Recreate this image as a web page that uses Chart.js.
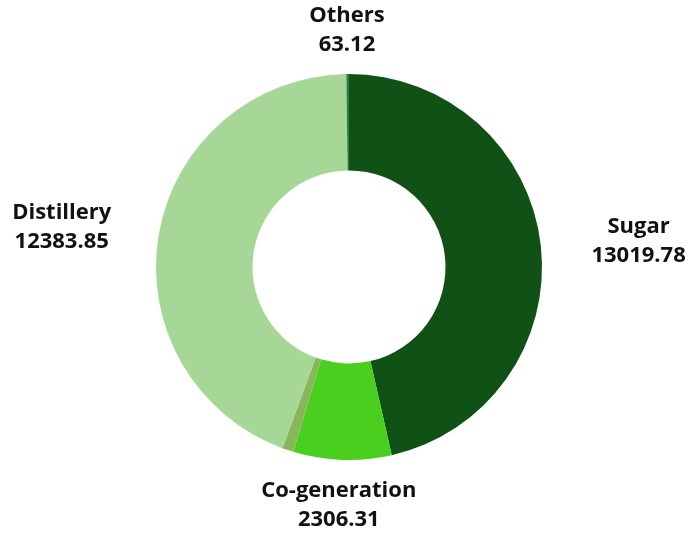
<!DOCTYPE html>
<html>
<head>
<meta charset="utf-8">
<script src="https://cdn.jsdelivr.net/npm/chart.js@4"></script>
<style>
  html, body { margin: 0; padding: 0; background: #fff; }
  #wrap { width: 698px; height: 537px; }
</style>
</head>
<body>
<div id="wrap"><canvas id="revenue"></canvas></div>
<script>
// segment data, clockwise from 12 o'clock
const segments = ['Sugar', 'Co-generation', '', 'Distillery', 'Others']
const values = [13019.78, 2306.31, 260, 12383.85, 63.12]
const colors = ['#105216', '#4bcf1f', '#88b75a', '#a6d797', '#2f7e3d']

// draws name + value outside each labelled slice
const outsideLabels = {
  id: 'outsideLabels',
  afterDatasetsDraw(chart) {
    const ctx = chart.ctx
    const arcs = chart.getDatasetMeta(0).data
    ctx.save()
    ctx.fillStyle = '#111'
    ctx.font = 'bold 22px "Open Sans"'
    ctx.textAlign = 'center'
    ctx.textBaseline = 'middle'
    arcs.forEach((arc, i) => {
      if (!segments[i]) return
      const mid = (arc.startAngle + arc.endAngle) / 2
      const rx = arc.outerRadius * 1.51
      const ry = arc.outerRadius * 1.23
      const x = arc.x + Math.cos(mid) * rx
      const y = arc.y + Math.sin(mid) * ry
      ctx.fillText(segments[i], x, y - 14)
      ctx.fillText(values[i].toFixed(2), x, y + 15)
    })
    ctx.restore()
  }
}

let revenue = document.getElementById('revenue').getContext('2d')

let donut = new Chart(revenue, {
  type: 'doughnut',
  data: {
    labels: segments,
    datasets: [{
      label: 'Revenue',
      data: values,
      backgroundColor: colors,
      borderWidth: 0
    }]
  },
  options: {
    responsive: true,
    maintainAspectRatio: false,
    animation: false,
    cutout: '50%',
    layout: { padding: { top: 74, bottom: 77 } },
    plugins: {
      legend: { display: false },
      tooltip: { enabled: false }
    }
  },
  plugins: [outsideLabels]
})
</script>
</body>
</html>
